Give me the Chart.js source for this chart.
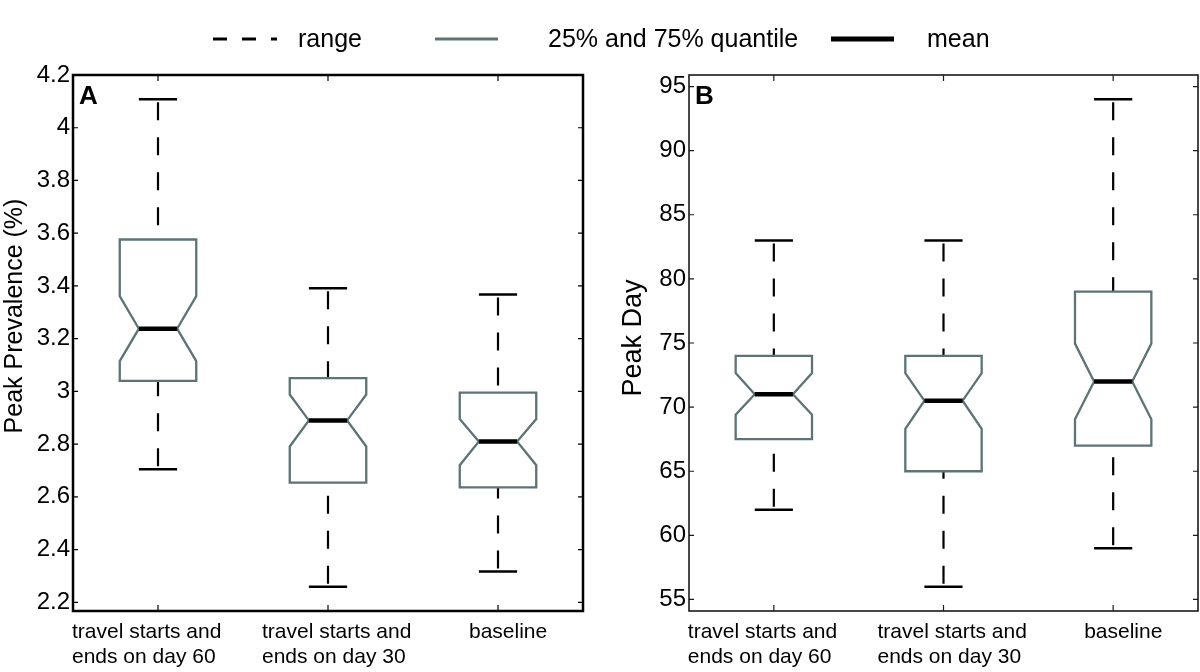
<!DOCTYPE html>
<html><head><meta charset="utf-8">
<script src="https://cdn.jsdelivr.net/npm/chart.js@4.4.1/dist/chart.umd.min.js"></script>
<style>
html,body{margin:0;padding:0;background:#fff;}
body{width:1200px;height:672px;position:relative;overflow:hidden;font-family:"Liberation Sans",Arial,sans-serif;}
canvas{position:absolute;top:0;}
#cA{left:0}
#cB{left:600px}
#legend{position:absolute;left:0;top:0;width:1200px;height:60px;}
</style></head><body>
<canvas id="cA" width="600" height="672"></canvas>
<canvas id="cB" width="600" height="672"></canvas>
<svg id="legend" width="1200" height="60" xmlns="http://www.w3.org/2000/svg"></svg>
<script>
// ---------- data ----------
const categories = [["travel starts and","ends on day 60"],["travel starts and","ends on day 30"],["baseline"]];
const legendLabels = ["range","25% and 75% quantile","mean"];

// Panel A: Peak Prevalence (%)
const prevTicks      = [2.2,2.4,2.6,2.8,3,3.2,3.4,3.6,3.8,4,4.2];
const prevTickLabels = ["2.2","2.4","2.6","2.8","3","3.2","3.4","3.6","3.8","4","4.2"];
const prevMin     = [2.705, 2.259, 2.317];
const prevQ1      = [3.040, 2.654, 2.636];
const prevNotchLo = [3.115, 2.791, 2.720];
const prevMedian  = [3.238, 2.890, 2.810];
const prevNotchHi = [3.361, 2.988, 2.895];
const prevQ3      = [3.576, 3.050, 2.995];
const prevMax     = [4.108, 3.391, 3.367];

// Panel B: Peak Day
const dayTicks      = [55,60,65,70,75,80,85,90,95];
const dayTickLabels = ["55","60","65","70","75","80","85","90","95"];
const dayMin     = [62, 56, 59];
const dayQ1      = [67.5, 65, 67];
const dayNotchLo = [69.4, 68.3, 69.05];
const dayMedian  = [71, 70.5, 72];
const dayNotchHi = [72.65, 72.65, 74.95];
const dayQ3      = [74, 74, 79];
const dayMax     = [83, 83, 94];

// ---------- styles ----------
const FONT = '"Liberation Sans", Arial, Helvetica, sans-serif';
const BOX_COLOR = '#5d7376';
const BOX_HALF = 0.225;
const LABEL_OFFSETS = [-86, -66, -29];

function boxPlugin(cfg){
  return {
    id: 'notchedBoxes',
    afterDraw(chart){
      const ctx = chart.ctx, xs = chart.scales.x, ys = chart.scales.y, a = chart.chartArea;
      const Y = v => ys.getPixelForValue(v);
      ctx.save();
      for (let i = 0; i < categories.length; i++){
        const c = xs.getPixelForValue(i + 1);
        const w = xs.getPixelForValue(i + 1 + BOX_HALF) - c;
        const cw = w / 2;
        // whiskers (dashed)
        ctx.strokeStyle = '#000'; ctx.lineWidth = 2.2; ctx.lineCap = 'butt';
        ctx.setLineDash([18, 17]); ctx.lineDashOffset = 32;
        ctx.beginPath(); ctx.moveTo(c, Y(cfg.max[i])); ctx.lineTo(c, Y(cfg.q3[i])); ctx.stroke();
        ctx.beginPath(); ctx.moveTo(c, Y(cfg.min[i])); ctx.lineTo(c, Y(cfg.q1[i])); ctx.stroke();
        ctx.setLineDash([]);
        // caps
        ctx.lineWidth = 2.5;
        ctx.beginPath(); ctx.moveTo(c - cw, Y(cfg.max[i])); ctx.lineTo(c + cw, Y(cfg.max[i])); ctx.stroke();
        ctx.beginPath(); ctx.moveTo(c - cw, Y(cfg.min[i])); ctx.lineTo(c + cw, Y(cfg.min[i])); ctx.stroke();
        // notched box
        ctx.strokeStyle = BOX_COLOR; ctx.lineWidth = 2.3; ctx.lineJoin = 'miter';
        ctx.beginPath();
        ctx.moveTo(c - w, Y(cfg.q1[i]));
        ctx.lineTo(c - w, Y(cfg.notchLo[i]));
        ctx.lineTo(c - cw, Y(cfg.median[i]));
        ctx.lineTo(c - w, Y(cfg.notchHi[i]));
        ctx.lineTo(c - w, Y(cfg.q3[i]));
        ctx.lineTo(c + w, Y(cfg.q3[i]));
        ctx.lineTo(c + w, Y(cfg.notchHi[i]));
        ctx.lineTo(c + cw, Y(cfg.median[i]));
        ctx.lineTo(c + w, Y(cfg.notchLo[i]));
        ctx.lineTo(c + w, Y(cfg.q1[i]));
        ctx.closePath();
        ctx.stroke();
        // median
        ctx.strokeStyle = '#000'; ctx.lineWidth = 4.5;
        ctx.beginPath(); ctx.moveTo(c - cw, Y(cfg.median[i])); ctx.lineTo(c + cw, Y(cfg.median[i])); ctx.stroke();
      }
      // frame
      ctx.strokeStyle = cfg.frameColor; ctx.lineWidth = cfg.frameWidth;
      ctx.strokeRect(a.left, a.top, a.right - a.left, a.bottom - a.top);
      // inward ticks
      ctx.lineWidth = 1.2;
      ys.ticks.forEach(t => {
        const y = Y(t.value);
        ctx.beginPath(); ctx.moveTo(a.left, y); ctx.lineTo(a.left + 5, y);
        ctx.moveTo(a.right, y); ctx.lineTo(a.right - 5, y); ctx.stroke();
      });
      xs.ticks.forEach(t => {
        const x = xs.getPixelForValue(t.value);
        ctx.beginPath(); ctx.moveTo(x, a.bottom); ctx.lineTo(x, a.bottom - 6);
        ctx.moveTo(x, a.top); ctx.lineTo(x, a.top + 6); ctx.stroke();
      });
      // panel letter
      ctx.fillStyle = '#000'; ctx.font = 'bold 26px ' + FONT;
      ctx.textAlign = 'left'; ctx.textBaseline = 'alphabetic';
      ctx.fillText(cfg.letter, a.left + 6, a.top + 29);
      // category labels
      ctx.font = '21px ' + FONT;
      categories.forEach((lines, i) => {
        const x = xs.getPixelForValue(i + 1) + LABEL_OFFSETS[i];
        lines.forEach((ln, k) => ctx.fillText(ln, x, a.bottom + 27 + k * 25));
      });
      // y-axis title
      ctx.save();
      ctx.font = cfg.titleSize + 'px ' + FONT;
      ctx.textAlign = 'center'; ctx.textBaseline = 'middle';
      ctx.translate(cfg.titleX, (a.top + a.bottom) / 2 + cfg.titleShift);
      ctx.rotate(-Math.PI / 2);
      ctx.fillText(cfg.title, 0, 0);
      ctx.restore();
      ctx.restore();
    }
  };
}

function makeChart(id, cfg){
  return new Chart(document.getElementById(id), {
    type: 'scatter',
    data: { datasets: [{ data: cfg.median.map((m, i) => ({x: i + 1, y: m})), pointRadius: 0, showLine: false }] },
    options: {
      responsive: false, animation: false, events: [], devicePixelRatio: 1,
      layout: { padding: { left: cfg.padLeft, right: cfg.padRight, top: 75, bottom: 0 } },
      plugins: { legend: { display: false }, tooltip: { enabled: false } },
      scales: {
        x: {
          type: 'linear', min: 0.5, max: 3.5,
          grid: { display: false, drawTicks: false }, border: { display: false },
          ticks: { display: false },
          afterBuildTicks: s => { s.ticks = categories.map((c, i) => ({ value: i + 1 })); },
          afterFit: s => { s.height = 61; }
        },
        y: {
          type: 'linear', min: cfg.yMin, max: cfg.yMax,
          grid: { display: false, drawTicks: false }, border: { display: false },
          ticks: { padding: 3, color: '#000', font: { family: FONT, size: 24 }, autoSkip: false,
                   callback: (v, i) => cfg.tickLabels[i] },
          afterBuildTicks: s => { s.ticks = cfg.ticks.map(v => ({ value: v })); },
          afterFit: s => { s.width = cfg.yWidth; },
          title: { display: false }
        }
      }
    },
    plugins: [boxPlugin(cfg)]
  });
}

makeChart('cA', {
  letter: 'A', title: 'Peak Prevalence (%)', titleSize: 25, titleX: 15, titleShift: -27,
  min: prevMin, q1: prevQ1, notchLo: prevNotchLo, median: prevMedian, notchHi: prevNotchHi, q3: prevQ3, max: prevMax,
  ticks: prevTicks, tickLabels: prevTickLabels, yMin: 2.167, yMax: 4.2,
  padLeft: 0, yWidth: 73, padRight: 17, frameColor: '#000', frameWidth: 2.5
});
makeChart('cB', {
  letter: 'B', title: 'Peak Day', titleSize: 27, titleX: 34, titleShift: -5,
  min: dayMin, q1: dayQ1, notchLo: dayNotchLo, median: dayMedian, notchHi: dayNotchHi, q3: dayQ3, max: dayMax,
  ticks: dayTicks, tickLabels: dayTickLabels, yMin: 54.1, yMax: 95.9,
  padLeft: 21, yWidth: 68, padRight: 2, frameColor: '#1a1a1a', frameWidth: 1.6
});

// ---------- legend ----------
(function(){
  const svg = document.getElementById('legend');
  const NS = 'http://www.w3.org/2000/svg';
  const samples = [
    { x1: 213, x2: 277, color: '#000', width: 3, dash: '14 15', tx: 298 },
    { x1: 435, x2: 498, color: BOX_COLOR, width: 3, dash: null, tx: 548 },
    { x1: 831, x2: 894, color: '#000', width: 5, dash: null, tx: 927 }
  ];
  samples.forEach((s, i) => {
    const l = document.createElementNS(NS, 'line');
    l.setAttribute('x1', s.x1); l.setAttribute('x2', s.x2);
    l.setAttribute('y1', 39); l.setAttribute('y2', 39);
    l.setAttribute('stroke', s.color); l.setAttribute('stroke-width', s.width);
    if (s.dash) l.setAttribute('stroke-dasharray', s.dash);
    svg.appendChild(l);
    const t = document.createElementNS(NS, 'text');
    t.setAttribute('x', s.tx); t.setAttribute('y', 47);
    t.setAttribute('font-family', FONT.replace(/"/g, "'")); t.setAttribute('font-size', 25);
    t.setAttribute('fill', '#000');
    t.textContent = legendLabels[i];
    svg.appendChild(t);
  });
})();
</script>
</body></html>
